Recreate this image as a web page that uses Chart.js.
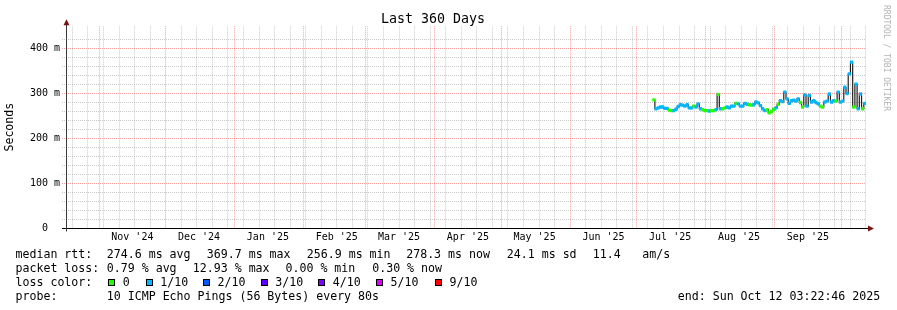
<!DOCTYPE html>
<html>
<head>
<meta charset="utf-8">
<script src="https://cdn.jsdelivr.net/npm/chart.js@4/dist/chart.umd.min.js"></script>
<style>
  html, body { margin: 0; padding: 0; background: #fff; }
  #wrap { position: relative; width: 897px; height: 310px; overflow: hidden;
          font-family: "DejaVu Sans Mono", monospace; color: #000; }
  #chart { position: absolute; left: 0; top: 0; }
  .lg { position: absolute; font-size: 11.6px; line-height: 14px; white-space: pre; }
  .sw { position: absolute; width: 5px; height: 5px; border: 1px solid #000; top: 279px; }
  #brand { position: absolute; left: 833px; top: 53px; width: 106px; height: 10px;
           font-size: 8px; line-height: 10px; color: #b4b4b4; white-space: pre;
           transform: rotate(90deg); transform-origin: 50% 50%; text-align: center; }
</style>
</head>
<body>
<div id="wrap">
  <canvas id="chart" width="897" height="310"></canvas>

  <div class="lg" style="left:15.5px;top:247px">median rtt:</div>
  <div class="lg" style="left:106.8px;top:247px">274.6 ms avg</div>
  <div class="lg" style="left:206.8px;top:247px">369.7 ms max</div>
  <div class="lg" style="left:306.8px;top:247px">256.9 ms min</div>
  <div class="lg" style="left:406.2px;top:247px">278.3 ms now</div>
  <div class="lg" style="left:506.8px;top:247px">24.1 ms sd</div>
  <div class="lg" style="left:592.8px;top:247px">11.4</div>
  <div class="lg" style="left:642.2px;top:247px">am/s</div>

  <div class="lg" style="left:15.5px;top:261px">packet loss:</div>
  <div class="lg" style="left:106.8px;top:261px">0.79 % avg</div>
  <div class="lg" style="left:192.8px;top:261px">12.93 % max</div>
  <div class="lg" style="left:285.5px;top:261px">0.00 % min</div>
  <div class="lg" style="left:372.2px;top:261px">0.30 % now</div>

  <div class="lg" style="left:15.5px;top:275px">loss color:</div>
  <div class="sw" style="left:108px;background:#26ff00"></div>
  <div class="lg" style="left:122.8px;top:275px">0</div>
  <div class="sw" style="left:145.5px;background:#00b8ff"></div>
  <div class="lg" style="left:160.2px;top:275px">1/10</div>
  <div class="sw" style="left:203px;background:#0059ff"></div>
  <div class="lg" style="left:217.5px;top:275px">2/10</div>
  <div class="sw" style="left:260.5px;background:#5e00ff"></div>
  <div class="lg" style="left:275.2px;top:275px">3/10</div>
  <div class="sw" style="left:318px;background:#7e00ff"></div>
  <div class="lg" style="left:332.8px;top:275px">4/10</div>
  <div class="sw" style="left:376px;background:#dd00ff"></div>
  <div class="lg" style="left:390.5px;top:275px">5/10</div>
  <div class="sw" style="left:435px;background:#ff0000"></div>
  <div class="lg" style="left:449.5px;top:275px">9/10</div>

  <div class="lg" style="left:15.5px;top:289px">probe:</div>
  <div class="lg" style="left:106.8px;top:289px">10 ICMP Echo Pings (56 Bytes) every 80s</div>
  <div class="lg" style="left:677.8px;top:289px">end: Sun Oct 12 03:22:46 2025</div>

  <div id="brand">RRDTOOL / TOBI OETIKER</div>
</div>

<script>
// 360 days ending Sun Oct 12 03:22:46 2025
const startMs = Date.UTC(2024, 9, 17, 3, 22, 46);
const spanDays = 360;

const monthLabels = ["Nov '24", "Dec '24", "Jan '25", "Feb '25", "Mar '25", "Apr '25",
                     "May '25", "Jun '25", "Jul '25", "Aug '25", "Sep '25"];

// one value per day, first one on day 264 of the range (Jul 2025)
const firstDay = 264.5;
const medianMs = [
  286, 266, 268, 270, 270, 267, 267, 263, 262, 262,
  265, 271, 275, 274, 272, 275, 268, 268, 272, 270,
  277, 266, 264, 262, 262, 261, 262, 262, 264, 298,
  266, 266, 268, 270, 268, 272, 272, 278, 277, 272,
  272, 278, 276, 275, 274, 275, 281, 279, 273, 266,
  262, 264, 257, 260, 265, 268, 276, 284, 282, 303,
  288, 278, 284, 285, 283, 288, 280, 270, 297, 272,
  296, 281, 284, 280, 277, 272, 270, 281, 283, 299,
  281, 284, 283, 303, 281, 283, 314, 300, 344, 370,
  270, 321, 266, 299, 266, 278
];
// packet loss per day, in pings out of 10
const lossTenths = [
  0, 1, 1, 1, 1, 1, 1, 0, 0, 1,
  1, 1, 1, 1, 1, 1, 1, 1, 0, 1,
  1, 1, 0, 0, 0, 1, 0, 0, 1, 0,
  1, 0, 0, 1, 1, 1, 1, 0, 1, 1,
  1, 1, 1, 0, 0, 1, 1, 1, 1, 1,
  1, 0, 0, 0, 0, 1, 0, 1, 1, 1,
  1, 1, 1, 1, 1, 1, 0, 0, 1, 1,
  1, 1, 1, 1, 1, 0, 0, 1, 1, 1,
  1, 1, 0, 1, 1, 1, 1, 1, 1, 1,
  0, 1, 1, 1, 0, 1
];
const lossColors = { 0: '#26ff00', 1: '#00b8ff', 2: '#0059ff', 3: '#5e00ff', 4: '#7e00ff', 5: '#dd00ff', 9: '#ff0000' };

const FONT = 'DejaVu Sans Mono';
const bandMs = 3;
const MINOR = 'rgba(140,140,140,0.45)';
const MAJOR = 'rgba(255,70,70,0.5)';

function dayOf(y, m, d) {
  return (Date.UTC(y, m, d) - startMs) / 864e5;
}

// x grid: weekly (Sunday) lines, month lines, and mid-month label positions
function buildXTicks() {
  const ticks = [];
  const months = [];
  for (let k = 0; k < 12; k++) {
    const v = dayOf(2024, 10 + k, 1);
    if (v <= spanDays) { months.push(v); ticks.push({ value: v, kind: 'month' }); }
  }
  for (let v = dayOf(2024, 9, 20); v < spanDays; v += 7) {
    if (!months.some(m => Math.abs(m - v) < 0.01)) ticks.push({ value: v, kind: 'week' });
  }
  monthLabels.forEach((lab, k) => {
    ticks.push({ value: dayOf(2024, 10 + k, 16), kind: 'label', text: lab });
  });
  return ticks.sort((a, b) => a.value - b.value);
}
const xTicks = buildXTicks();

const days = medianMs.map((v, i) => firstDay + i);

const axisArrows = {
  id: 'axisArrows',
  afterDraw(chart) {
    const { ctx, chartArea: a } = chart;
    const y0 = Math.round(chart.scales.y.getPixelForValue(0)) + 0.5;
    const x0 = Math.round(a.left) + 0.5;
    ctx.save();
    ctx.lineWidth = 1;
    ctx.strokeStyle = '#000';
    ctx.beginPath(); ctx.moveTo(a.left - 4, y0); ctx.lineTo(a.right + 3, y0); ctx.stroke();
    ctx.strokeStyle = '#3a3a3a';
    ctx.beginPath(); ctx.moveTo(x0, y0 + 3); ctx.lineTo(x0, a.top - 2); ctx.stroke();
    ctx.fillStyle = '#7a1515';
    ctx.beginPath(); ctx.moveTo(a.right + 2, y0 - 3); ctx.lineTo(a.right + 8, y0); ctx.lineTo(a.right + 2, y0 + 3); ctx.fill();
    ctx.beginPath(); ctx.moveTo(x0 - 3, a.top - 1); ctx.lineTo(x0, a.top - 7); ctx.lineTo(x0 + 3, a.top - 1); ctx.fill();
    ctx.restore();
  }
};

new Chart(document.getElementById('chart'), {
  data: {
    datasets: [
      {
        type: 'bar',
        label: 'loss',
        data: days.map((d, i) => ({ x: d, y: [medianMs[i] - bandMs, medianMs[i] + bandMs] })),
        backgroundColor: lossTenths.map(l => lossColors[l]),
        borderWidth: 0,
        barThickness: 2.3,
        order: 1
      },
      {
        type: 'line',
        label: 'median rtt',
        data: days.map((d, i) => ({ x: d, y: medianMs[i] })),
        borderColor: '#202020',
        borderWidth: 1.2,
        pointRadius: 0,
        stepped: 'middle',
        order: 2
      }
    ]
  },
  options: {
    responsive: false,
    animation: false,
    layout: { padding: { left: 0, right: 31, top: 0, bottom: 0 } },
    plugins: {
      legend: { display: false },
      tooltip: { enabled: false },
      title: {
        display: true,
        text: 'Last 360 Days',
        color: '#000',
        font: { family: FONT, size: 13.3, weight: 'normal', lineHeight: 1 },
        padding: { top: 12.5, bottom: 0.5 }
      }
    },
    scales: {
      x: {
        type: 'linear',
        min: 0,
        max: spanDays,
        offset: false,
        afterFit(scale) { scale.height = 82; },
        afterBuildTicks(scale) { scale.ticks = xTicks.map(t => ({ value: t.value, kind: t.kind, text: t.text })); },
        border: { display: false, dash: [1, 1] },
        grid: {
          offset: false,
          drawTicks: false,
          lineWidth: 1,
          color: ctx => {
            const k = ctx.tick && ctx.tick.kind;
            if (k === 'month') return MAJOR;
            if (k === 'week') return MINOR;
            return 'rgba(0,0,0,0)';
          }
        },
        ticks: {
          autoSkip: false,
          maxRotation: 0,
          padding: 3,
          color: '#000',
          font: { family: FONT, size: 10 },
          callback: (v, i) => xTicks[i] && xTicks[i].kind === 'label' ? xTicks[i].text : ''
        }
      },
      y: {
        type: 'linear',
        min: 0,
        max: 450,
        afterFit(scale) { scale.width = 66; },
        border: { display: false, dash: [1, 1] },
        title: {
          display: true,
          text: 'Seconds',
          color: '#000',
          font: { family: FONT, size: 11.6 },
          padding: { top: 3.5, bottom: 0 }
        },
        grid: {
          drawTicks: true,
          tickLength: 4,
          lineWidth: 1,
          tickBorderDash: [1, 1],
          color: ctx => {
            const v = ctx.tick ? ctx.tick.value : 0;
            if (v % 100 === 0) return MAJOR;
            if (v % 20 === 0) return MINOR;
            return 'rgba(0,0,0,0)';
          }
        },
        ticks: {
          stepSize: 20,
          autoSkip: false,
          padding: 2,
          color: '#000',
          font: { family: FONT, size: 10 },
          callback: v => v % 100 === 0 ? (v === 0 ? '0  ' : v + ' m') : ''
        }
      }
    }
  },
  plugins: [axisArrows]
});
</script>
</body>
</html>
